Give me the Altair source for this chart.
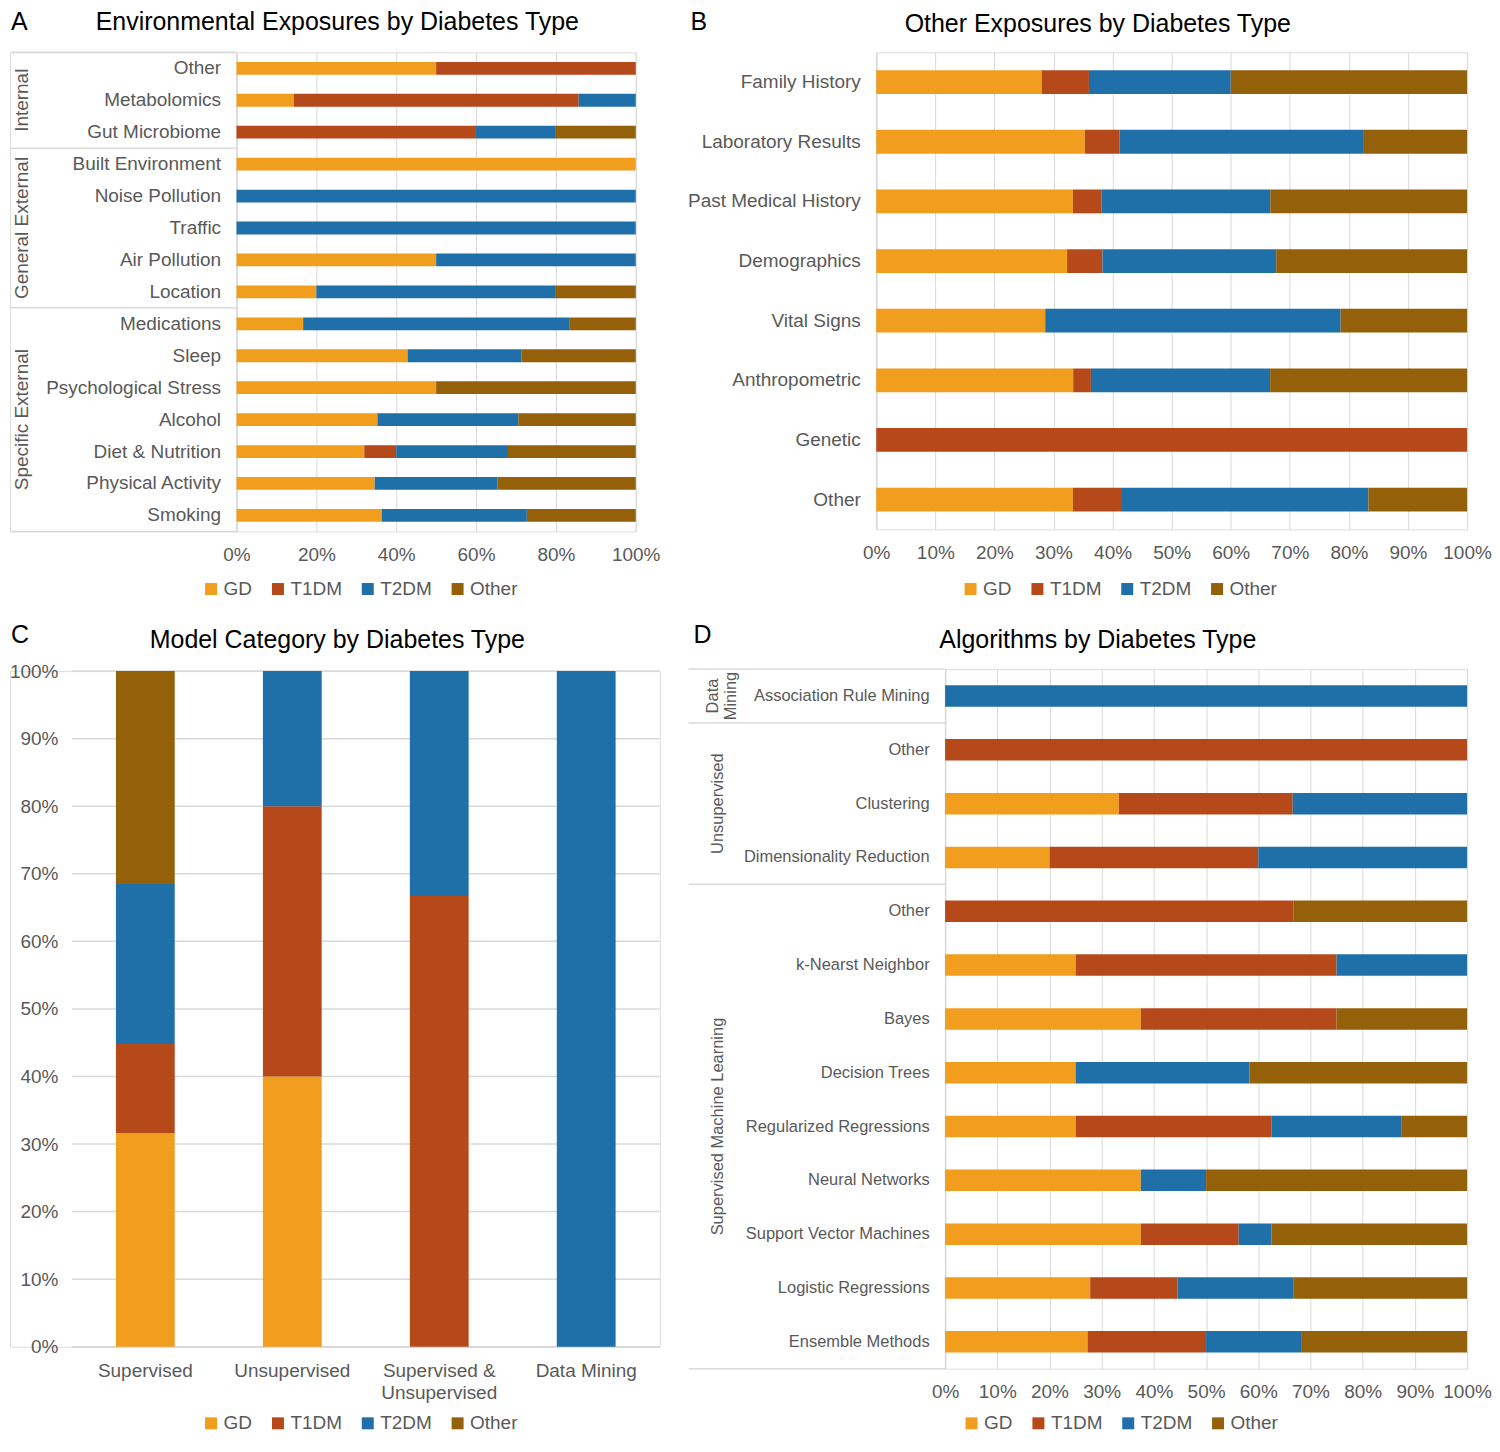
import altair as alt
import pandas as pd

SERIES = ["GD", "T1DM", "T2DM", "Other"]
COLORS = ["#F19E1F", "#B6491A", "#1F6FA8", "#94600A"]
GRAY = "#595959"
GRID = "#D9D9D9"
FONT = "Liberation Sans"

# ---------------- Panel A: Environmental exposures ----------------
a_categories = ["Other", "Metabolomics", "Gut Microbiome", "Built Environment", "Noise Pollution",
                "Traffic", "Air Pollution", "Location", "Medications", "Sleep",
                "Psychological Stress", "Alcohol", "Diet & Nutrition", "Physical Activity", "Smoking"]
a_gd = [50, 14.3, 0, 100, 0, 0, 50, 20, 16.7, 42.9, 50, 35.3, 32, 34.6, 36.4]
a_t1dm = [50, 71.4, 60, 0, 0, 0, 0, 0, 0, 0, 0, 0, 8, 0, 0]
a_t2dm = [0, 14.3, 20, 0, 100, 100, 50, 60, 66.7, 28.6, 0, 35.3, 28, 30.8, 36.4]
a_other = [0, 0, 20, 0, 0, 0, 0, 20, 16.7, 28.6, 50, 29.4, 32, 34.6, 27.3]
a_groups = ["Internal", "General External", "Specific External"]
a_group_sizes = [3, 5, 7]

# ---------------- Panel B: Other exposures ----------------
b_categories = ["Family History", "Laboratory Results", "Past Medical History", "Demographics",
                "Vital Signs", "Anthropometric", "Genetic", "Other"]
b_gd = [28, 35.3, 33.3, 32.3, 28.6, 33.3, 0, 33.3]
b_t1dm = [8, 5.9, 4.8, 6.0, 0, 3.0, 100, 8.3]
b_t2dm = [24, 41.2, 28.6, 29.4, 50, 30.3, 0, 41.7]
b_other = [40, 17.6, 33.3, 32.3, 21.4, 33.3, 0, 16.7]

# ---------------- Panel C: Model category ----------------
c_categories = ["Supervised", "Unsupervised", "Supervised &|Unsupervised", "Data Mining"]
c_gd = [31.6, 40, 0, 0]
c_t1dm = [13.2, 40, 66.7, 0]
c_t2dm = [23.7, 20, 33.3, 100]
c_other = [31.5, 0, 0, 0]

# ---------------- Panel D: Algorithms ----------------
d_categories = ["Association Rule Mining", "Other", "Clustering", "Dimensionality Reduction",
                "Other", "k-Nearst Neighbor", "Bayes", "Decision Trees", "Regularized Regressions",
                "Neural Networks", "Support Vector Machines", "Logistic Regressions", "Ensemble Methods"]
d_gd = [0, 0, 33.3, 20, 0, 25, 37.5, 25, 25, 37.5, 37.5, 27.8, 27.3]
d_t1dm = [0, 100, 33.3, 40, 66.7, 50, 37.5, 0, 37.5, 0, 18.75, 16.7, 22.7]
d_t2dm = [100, 0, 33.4, 40, 0, 25, 0, 33.3, 25, 12.5, 6.25, 22.2, 18.2]
d_other = [0, 0, 0, 0, 33.3, 0, 25, 41.7, 12.5, 50, 37.5, 33.3, 31.8]
d_groups = ["Data\nMining", "Unsupervised", "Supervised Machine Learning"]
d_group_sizes = [1, 3, 9]

TICKS_20 = [0, 0.2, 0.4, 0.6, 0.8, 1.0]
TICKS_10 = [0, 0.1, 0.2, 0.3, 0.4, 0.5, 0.6, 0.7, 0.8, 0.9, 1.0]


def long_table(categories, gd, t1, t2, ot):
    rows = []
    keys = []
    for i, cat in enumerate(categories):
        key = f"{i:02d}|{cat}"
        keys.append(key)
        for j, (s, vals) in enumerate(zip(SERIES, [gd, t1, t2, ot])):
            if vals[i] > 0:
                rows.append({"key": key, "series": s, "ord": j, "value": vals[i]})
    return pd.DataFrame(rows), keys


def color_enc(lx, ly):
    return alt.Color(
        "series:N",
        scale=alt.Scale(domain=SERIES, range=COLORS),
        legend=alt.Legend(title=None, orient="none", legendX=lx, legendY=ly, direction="horizontal",
                          symbolType="square", symbolSize=144, symbolStrokeWidth=0,
                          labelFontSize=19, labelColor=GRAY, labelFont=FONT, labelOffset=3,
                          columnPadding=16),
    )


def text_layer(text, x, y, size=25, align="left"):
    return alt.Chart(pd.DataFrame({"t": [text]})).mark_text(
        fontSize=size, font=FONT, color="#000000", align=align, baseline="alphabetic"
    ).encode(x=alt.value(x), y=alt.value(y), text="t:N")


def group_layers(groups, sizes, text_x, rule_x0, rule_x1, font_size):
    n = sum(sizes)
    bounds = [0]
    for s in sizes:
        bounds.append(bounds[-1] + s)
    mids = [(bounds[i] + bounds[i + 1]) / 2 for i in range(len(sizes))]
    yscale = alt.Scale(domain=[0, n], reverse=True, nice=False, zero=False)
    layers = [
        alt.Chart(pd.DataFrame({"pos": bounds})).mark_rule(color=GRID, strokeWidth=1.5).encode(
            y=alt.Y("pos:Q", scale=yscale, axis=None), x=alt.value(rule_x0), x2=alt.value(rule_x1))
    ]
    for name, mid, tx in zip(groups, mids, text_x):
        layers.append(
            alt.Chart(pd.DataFrame({"name": [name], "mid": [mid]})).mark_text(
                angle=270, fontSize=font_size, font=FONT, color=GRAY, align="center",
                baseline="middle", lineBreak="\n", lineHeight=18
            ).encode(y=alt.Y("mid:Q", scale=yscale, axis=None), x=alt.value(tx), text="name:N")
        )
    return layers


def hbar_panel(categories, cols, plot_w, height, ticks, ylab_size, legend_xy, title, title_xy,
               letter, letter_xy, left=0, groups=None):
    """left: pixels reserved inside the view (left of the bars) for labels and group column."""
    df, keys = long_table(categories, *cols)
    bars = alt.Chart(df).mark_bar().encode(
        y=alt.Y("key:N", sort=keys, scale=alt.Scale(paddingInner=0.6, paddingOuter=0.3),
                axis=alt.Axis(title=None, labelExpr="split(datum.label, '|')[1]", labelFontSize=ylab_size,
                              labelColor=GRAY, labelFont=FONT, labelPadding=16, labelLimit=400,
                              ticks=False, domain=True, domainColor=GRID, domainWidth=1.5, grid=False,
                              offset=-left)),
        x=alt.X("value:Q", stack="normalize",
                scale=alt.Scale(domain=[0, 1], nice=False, range=[left, left + plot_w]),
                axis=alt.Axis(title=None, format=".0%", values=ticks, grid=True, gridColor=GRID,
                              domain=False, ticks=False, labelFontSize=19, labelColor=GRAY,
                              labelFont=FONT, labelPadding=14, labelFlush=False, labelOverlap=False)),
        color=color_enc(*legend_xy),
        order=alt.Order("ord:Q"),
    )
    layers = [bars]
    if groups is not None:
        layers += group_layers(*groups)
    layers.append(text_layer(letter, *letter_xy))
    layers.append(text_layer(title, *title_xy, align="center"))
    return alt.layer(*layers).resolve_scale(y="independent").properties(width=left + plot_w, height=height)


# Panel A (group column and labels kept inside the view: bars start at x=227)
panel_a = hbar_panel(a_categories, (a_gd, a_t1dm, a_t2dm, a_other), 400, 480, TICKS_20, 19,
                     (192, 528), "Environmental Exposures by Diabetes Type", (328, -22),
                     "A", (1, -22), left=227,
                     groups=(a_groups, a_group_sizes, [12, 12, 12], 1, 227, 19))

# Panel B
panel_b = hbar_panel(b_categories, (b_gd, b_t1dm, b_t2dm, b_other), 592, 478, TICKS_10, 19,
                     (85, 528), "Other Exposures by Diabetes Type", (222, -20),
                     "B", (-186, -22))

# Panel D
panel_d = hbar_panel(d_categories, (d_gd, d_t1dm, d_t2dm, d_other), 523, 701, TICKS_10, 16.5,
                     (17, 746), "Algorithms by Diabetes Type", (153, -21),
                     "D", (-252, -26),
                     groups=(d_groups, d_group_sizes, [-233, -228, -228], -257, 0, 16.5))

# Panel C (vertical); the y labels live inside the view (bars start at x=62)
C_LEFT, C_W = 62, 589
c_df, c_keys = long_table(c_categories, c_gd, c_t1dm, c_t2dm, c_other)
c_yaxis = alt.Axis(title=None, format=".0%", values=TICKS_10, grid=False, domain=False, ticks=False,
                   labelFontSize=19, labelColor=GRAY, labelFont=FONT, labelPadding=14, offset=-C_LEFT)
c_yscale = alt.Scale(domain=[0, 1], nice=False)
c_grid = alt.Chart(pd.DataFrame({"tick": TICKS_10})).mark_rule(color=GRID, strokeWidth=1.5).encode(
    y=alt.Y("tick:Q", scale=c_yscale, axis=c_yaxis), x=alt.value(C_LEFT), x2=alt.value(C_LEFT + C_W))
c_bars = alt.Chart(c_df).mark_bar().encode(
    x=alt.X("key:N", sort=c_keys,
            scale=alt.Scale(paddingInner=0.6, paddingOuter=0.3, range=[C_LEFT, C_LEFT + C_W]),
            axis=alt.Axis(title=None, labelExpr="slice(split(datum.label, '|'), 1)", labelAngle=0,
                          labelFontSize=19, labelColor=GRAY, labelFont=FONT, labelPadding=15,
                          labelLineHeight=22, labelLimit=400, ticks=False, domain=True,
                          domainColor=GRID, domainWidth=1.5, grid=False)),
    y=alt.Y("value:Q", stack="normalize", scale=c_yscale, axis=c_yaxis),
    color=color_enc(192, 744),
    order=alt.Order("ord:Q"),
)
panel_c = alt.layer(
    c_grid,
    c_bars,
    text_layer("C", 1, -28),
    text_layer("Model Category by Diabetes Type", 328, -23, align="center"),
).properties(width=C_LEFT + C_W, height=677)

chart = alt.concat(
    panel_a, panel_b, panel_c, panel_d, columns=2,
    spacing={"row": 22, "column": 25}, align="none", bounds="full",
).resolve_scale(color="independent").properties(
    padding=0
).configure_view(stroke=None).configure(font=FONT)

chart.save("out.html", embed_options={"renderer": "svg", "actions": False})
